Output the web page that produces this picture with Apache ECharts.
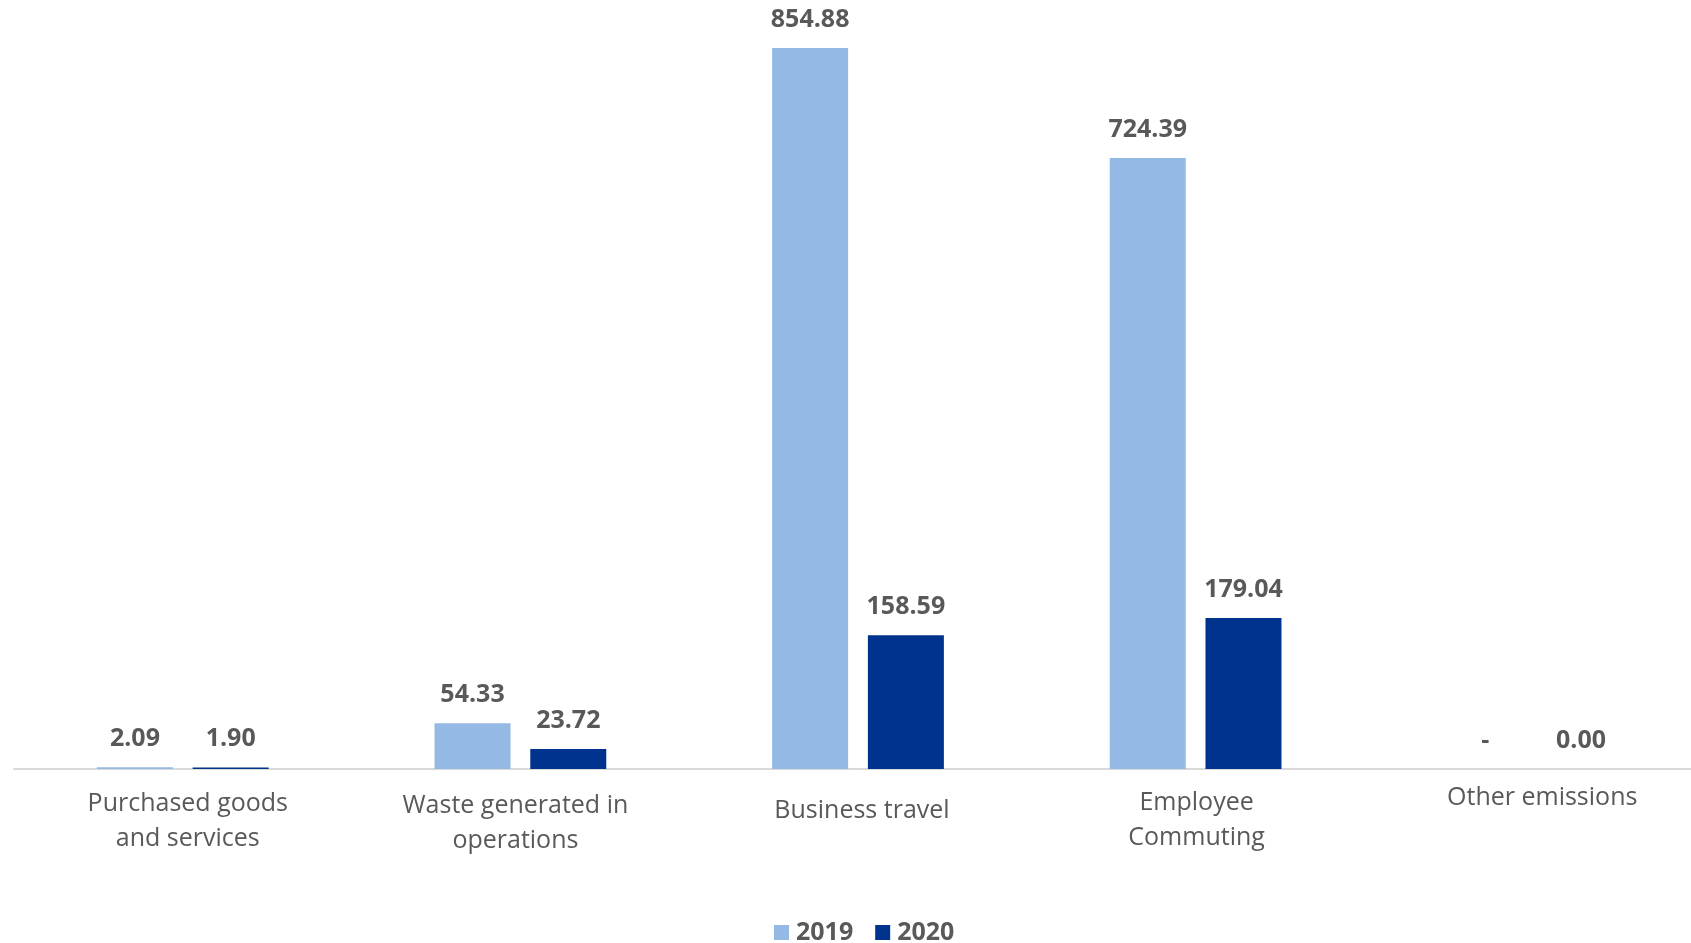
<!DOCTYPE html>
<html>
<head>
<meta charset="utf-8">
<script src="https://cdn.jsdelivr.net/npm/echarts@6/dist/echarts.min.js"></script>
<style>
html,body{margin:0;padding:0;background:#fff;}
#chart{width:1691px;height:943px;}
</style>
</head>
<body>
<div id="chart"></div>
<script>
const categories = ['Purchased goods\nand services', 'Waste generated in\noperations', 'Business travel', 'Employee\nCommuting', 'Other emissions'];
const seriesNames = ['2019', '2020'];
const values2019 = [2.09, 54.33, 854.88, 724.39, 0];
const values2020 = [1.90, 23.72, 158.59, 179.04, 0.001];

// label nudges (style only): [top, right, bottom, left] padding
const labelPads = [[6, 0, 0, 10], [8, 10, 0, 0], [13, 0, 0, 8], [5, 0, 0, 2], [0, 0, 0, 18]];
const textColor = '#595959';

const chart = echarts.init(document.getElementById('chart'));
const fmt = p => (p.value === 0 ? '-' : p.value.toFixed(2));
const labelStyle = {
  show: true, position: 'top', distance: 16,
  color: textColor, fontFamily: 'Open Sans', fontWeight: 'bold', fontSize: 25,
  formatter: fmt
};
chart.setOption({
  animation: false,
  backgroundColor: '#ffffff',
  grid: { left: 14, width: 1688, top: 10, bottom: 174, outerBoundsMode: 'none', containLabel: false },
  legend: {
    data: seriesNames,
    top: 915, left: 769,
    itemWidth: 15, itemHeight: 15, itemGap: 22,
    icon: 'rect',
    textStyle: { color: textColor, fontFamily: 'Open Sans', fontWeight: 'bold', fontSize: 25, padding: [0, 0, 0, 2] }
  },
  xAxis: {
    type: 'category',
    data: categories.map((c, i) => ({ value: c, textStyle: { padding: labelPads[i] } })),
    axisLine: { show: true, lineStyle: { color: '#D9D9D9', width: 2 } },
    axisTick: { show: false },
    axisLabel: { interval: 0, margin: 11, color: textColor, fontFamily: 'Open Sans', fontSize: 25, lineHeight: 35 }
  },
  yAxis: {
    type: 'value', min: 0, max: 900, show: false,
    splitLine: { show: false }
  },
  series: [
    {
      name: seriesNames[0], type: 'bar', data: values2019,
      barWidth: 76, barGap: '26%',
      itemStyle: { color: '#95B9E5' },
      label: labelStyle
    },
    {
      name: seriesNames[1], type: 'bar', data: values2020,
      barWidth: 76,
      itemStyle: { color: '#00338D' },
      label: labelStyle
    }
  ]
});
</script>
</body>
</html>
